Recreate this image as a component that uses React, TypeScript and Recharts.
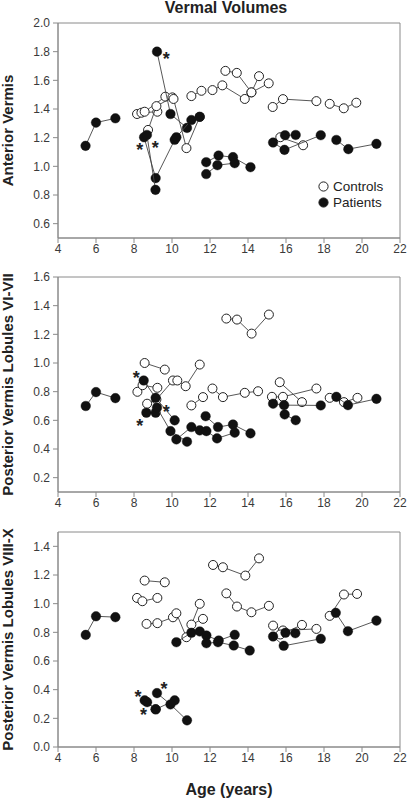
import { ScatterChart, Scatter, XAxis, YAxis, ReferenceArea, Legend } from 'recharts'

type Pt = [number, number]

const FONT = '"Liberation Sans", Arial, sans-serif'

const xTicks = [4, 6, 8, 10, 12, 14, 16, 18, 20, 22]
const antTicks = [0.6, 0.8, 1.0, 1.2, 1.4, 1.6, 1.8, 2.0]
const postTicks = [0.2, 0.4, 0.6, 0.8, 1.0, 1.2, 1.4, 1.6]
const lowTicks = [0.0, 0.2, 0.4, 0.6, 0.8, 1.0, 1.2, 1.4]
const legendLabels = ['Controls', 'Patients']

// anterior vermis, one inner array per subject (age, volume)
const antControls: Pt[][] = [
  [[8.16, 1.365], [8.39, 1.374], [9.23, 1.381]],
  [[8.56, 1.381], [9.65, 1.486]],
  [[8.74, 1.254], [9.18, 1.42], [10.02, 1.481]],
  [[10.08, 1.47], [10.76, 1.127], [11.46, 1.345]],
  [[11.02, 1.49], [11.55, 1.527]],
  [[12.13, 1.532], [12.65, 1.565], [13.83, 1.47]],
  [[12.81, 1.666], [13.41, 1.652], [14.18, 1.516], [15.09, 1.579]],
  [[14.58, 1.629], [14.18, 1.516]],
  [[15.3, 1.414], [15.84, 1.469], [17.6, 1.455]],
  [[15.7, 1.203], [16.9, 1.147]],
  [[18.3, 1.436], [19.04, 1.405], [19.7, 1.444]],
]
const antPatients: Pt[][] = [
  [[5.45, 1.143], [6.0, 1.305], [7.02, 1.335]],
  [[9.21, 1.8], [9.92, 1.365], [10.79, 1.268]],
  [[8.53, 1.203], [9.14, 0.918], [10.14, 1.185]],
  [[8.68, 1.219], [9.13, 0.836]],
  [[10.23, 1.203], [11.02, 1.323], [11.46, 1.346]],
  [[11.8, 1.029], [12.45, 1.075], [13.21, 1.064], [14.13, 0.994]],
  [[11.8, 0.946], [12.39, 1.008], [13.3, 1.022]],
  [[15.32, 1.166], [15.92, 1.115], [17.83, 1.217]],
  [[15.95, 1.217], [16.51, 1.219]],
  [[18.65, 1.184], [19.28, 1.12], [20.76, 1.157]],
]
const antStars: Pt[] = [[9.7, 1.775], [8.3, 1.142], [9.12, 1.156]]

// posterior vermis lobules VI-VII
const midControls: Pt[][] = [
  [[8.56, 1.0], [9.62, 0.954]],
  [[8.18, 0.799], [8.45, 0.845], [9.23, 0.827]],
  [[8.69, 0.716], [9.18, 0.745], [10.05, 0.878]],
  [[10.28, 0.878], [10.72, 0.838], [11.46, 0.989]],
  [[11.02, 0.704], [11.63, 0.762]],
  [[12.13, 0.822], [12.68, 0.762], [13.83, 0.792], [14.53, 0.803]],
  [[12.86, 1.31], [13.42, 1.303], [14.19, 1.205], [15.1, 1.338]],
  [[15.26, 0.764], [15.84, 0.764], [17.6, 0.822]],
  [[15.67, 0.866], [16.84, 0.727]],
  [[18.3, 0.757], [19.05, 0.727], [19.76, 0.757]],
]
const midPatients: Pt[][] = [
  [[5.46, 0.7], [6.0, 0.797], [7.02, 0.755]],
  [[8.51, 0.878], [9.14, 0.757], [10.14, 0.6]],
  [[8.65, 0.653], [9.14, 0.653]],
  [[9.21, 0.688], [9.92, 0.525], [10.79, 0.451]],
  [[10.23, 0.467], [11.02, 0.553], [11.46, 0.53]],
  [[11.77, 0.629], [12.42, 0.553], [13.21, 0.571], [14.13, 0.509]],
  [[11.81, 0.525], [12.37, 0.474], [13.3, 0.514]],
  [[15.32, 0.716], [15.9, 0.706], [17.83, 0.704]],
  [[15.93, 0.641], [16.51, 0.601]],
  [[18.65, 0.764], [19.26, 0.706], [20.76, 0.75]],
]
const midStars: Pt[] = [[8.12, 0.92], [9.7, 0.688], [8.3, 0.59]]

// posterior vermis lobules VIII-X
const lowControls: Pt[][] = [
  [[8.56, 1.161], [9.62, 1.149]],
  [[8.16, 1.04], [8.44, 1.017], [9.23, 1.04]],
  [[8.66, 0.859], [9.23, 0.864], [10.05, 0.905]],
  [[10.23, 0.933], [10.76, 0.766], [11.46, 0.999]],
  [[11.02, 0.854], [11.63, 0.894]],
  [[12.16, 1.27], [12.68, 1.254], [13.86, 1.196], [14.58, 1.316]],
  [[12.86, 1.072], [13.42, 0.98], [14.18, 0.94], [15.1, 0.985]],
  [[15.32, 0.847], [15.84, 0.813], [17.6, 0.824]],
  [[15.7, 0.785], [16.84, 0.852]],
  [[18.3, 0.915], [19.05, 1.064], [19.74, 1.068]],
]
const lowPatients: Pt[][] = [
  [[5.46, 0.782], [6.0, 0.912], [7.02, 0.906]],
  [[8.56, 0.325], [9.14, 0.263], [10.14, 0.325]],
  [[8.69, 0.313], [9.14, 0.263]],
  [[9.21, 0.376], [9.92, 0.297], [10.79, 0.186]],
  [[10.23, 0.731], [11.02, 0.797], [11.46, 0.806]],
  [[11.81, 0.778], [12.46, 0.743], [13.3, 0.783]],
  [[11.81, 0.724], [12.42, 0.731], [13.25, 0.708], [14.09, 0.673]],
  [[15.32, 0.771], [15.88, 0.706], [17.83, 0.755]],
  [[15.97, 0.797], [16.49, 0.794]],
  [[18.62, 0.936], [19.26, 0.808], [20.76, 0.882]],
]
const lowStars: Pt[] = [[8.21, 0.376], [9.58, 0.434], [8.5, 0.251]]

const toRows = (pts: Pt[]) => pts.map(([age, vol]) => ({ age, vol }))

const openDot = (p: any) => <circle cx={p.cx} cy={p.cy} r={4.5} fill="#fff" stroke="#222" strokeWidth={1} />
const fullDot = (p: any) => <circle cx={p.cx} cy={p.cy} r={4.8} fill="#111" stroke="#111" strokeWidth={0.4} />
const starMark = (p: any) => (
  <text x={p.cx} y={p.cy + 10} textAnchor="middle" fontSize={18} fontWeight="bold" fontFamily={FONT} fill="#222">
    *
  </text>
)

const yTitle = (title: string) => (props: any) => {
  const vb = props.viewBox || {}
  const cy = vb.y + vb.height / 2
  return (
    <text x={13} y={cy} transform={`rotate(-90 13 ${cy})`} textAnchor="middle" fontSize={15}
      fontWeight="bold" fontFamily={FONT} fill="#222">
      {title}
    </text>
  )
}

const legendBox = () => (
  <div style={{ fontFamily: FONT, fontSize: 13.5, color: '#222' }}>
    {legendLabels.map((name, i) => (
      <div key={name} style={{ display: 'flex', alignItems: 'center', height: 16 }}>
        <svg width={11} height={11} style={{ marginRight: 4 }}>
          <circle cx={5.5} cy={5.5} r={4.6} fill={i === 0 ? '#fff' : '#111'} stroke="#222" strokeWidth={1} />
        </svg>
        <span>{name}</span>
      </div>
    ))}
  </div>
)

type PanelProps = {
  top: number
  height: number
  xAxisHeight: number
  controls: Pt[][]
  patients: Pt[][]
  stars: Pt[]
  domain: [number, number]
  ticks: number[]
  title: string
  xTitle?: string
  legend?: boolean
}

function Panel({ top, height, xAxisHeight, controls, patients, stars, domain, ticks, title, xTitle, legend }: PanelProps) {
  const axisColor = '#8a8a8a'
  const tickStyle = { fontSize: 12, fontFamily: FONT, fill: '#3a3a3a' }
  return (
    <div style={{ position: 'absolute', left: 0, top }}>
      <ScatterChart width={407} height={height} margin={{ top: 23, right: 7, left: 0, bottom: 0 }}>
        <XAxis type="number" dataKey="age" domain={[4, 22]} ticks={xTicks} interval={0}
          height={xAxisHeight} tickSize={5} tickMargin={1} stroke={axisColor} tick={tickStyle}
          label={xTitle ? { value: xTitle, position: 'insideBottom', offset: 3, fontSize: 16,
            fontWeight: 'bold', fontFamily: FONT, fill: '#222' } : undefined} />
        <YAxis type="number" dataKey="vol" domain={domain} ticks={ticks} interval={0} width={58}
          tickSize={5} tickMargin={3} stroke={axisColor} tick={tickStyle}
          tickFormatter={(v: number) => v.toFixed(1)} label={yTitle(title)} />
        <ReferenceArea x1={4} x2={22} y1={domain[0]} y2={domain[1]} fill="none" stroke={axisColor} />
        {controls.map((s, i) => (
          <Scatter key={'c' + i} data={toRows(s)} line={{ stroke: '#444', strokeWidth: 0.9 }}
            lineType="joint" shape={openDot} isAnimationActive={false} />
        ))}
        {patients.map((s, i) => (
          <Scatter key={'p' + i} data={toRows(s)} line={{ stroke: '#444', strokeWidth: 0.9 }}
            lineType="joint" shape={fullDot} isAnimationActive={false} />
        ))}
        <Scatter data={toRows(stars)} shape={starMark} isAnimationActive={false} />
        {legend && (
          <Legend layout="vertical" align="center" verticalAlign="middle" content={legendBox}
            wrapperStyle={{ left: 318, top: 178, width: 90 }} />
        )}
      </ScatterChart>
    </div>
  )
}

export default function App() {
  return (
    <div style={{ position: 'absolute', left: 0, top: 0, width: 407, height: 798, background: '#fff' }}>
      <div style={{ position: 'absolute', left: 0, top: 0, width: 452, textAlign: 'center', fontFamily: FONT,
        fontSize: 16, lineHeight: '16px', fontWeight: 'bold', color: '#222' }}>
        Vermal Volumes
      </div>
      <Panel top={0} height={260} xAxisHeight={22} controls={antControls} patients={antPatients}
        stars={antStars} domain={[0.5, 2.0]} ticks={antTicks} title="Anterior Vermis" legend />
      <Panel top={254} height={260} xAxisHeight={22} controls={midControls} patients={midPatients}
        stars={midStars} domain={[0.1, 1.6]} ticks={postTicks} title="Posterior Vermis Lobules VI-VII" />
      <Panel top={509} height={289} xAxisHeight={51} controls={lowControls} patients={lowPatients}
        stars={lowStars} domain={[0, 1.5]} ticks={lowTicks} title="Posterior Vermis Lobules VIII-X"
        xTitle="Age (years)" />
    </div>
  )
}
